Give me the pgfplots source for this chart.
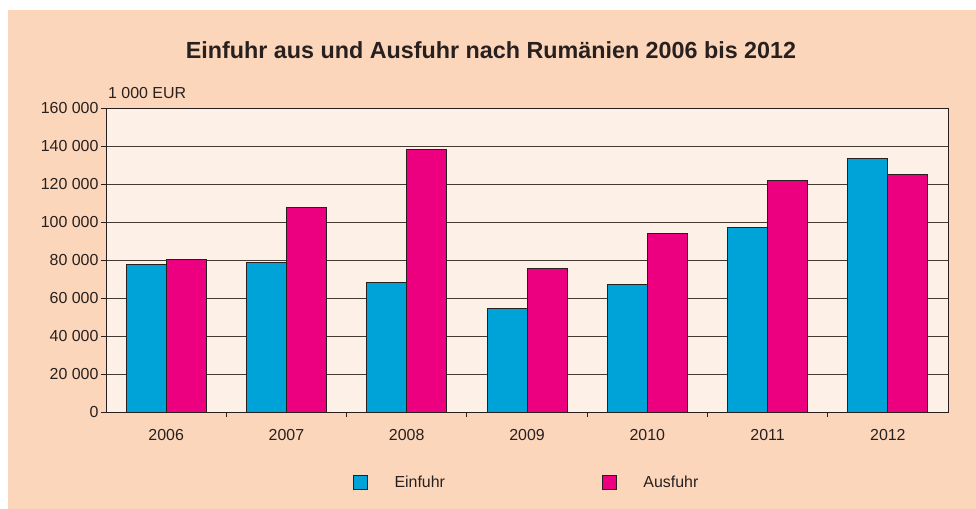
\documentclass[border=0pt]{standalone}
\usepackage{pgfplots}
\pgfplotsset{compat=1.18}
\usepackage{fontspec}
\setmainfont{Liberation Sans}
\definecolor{peach}{RGB}{252,214,187}
\definecolor{inner}{RGB}{253,240,230}
\definecolor{einf}{RGB}{0,163,216}
\definecolor{ausf}{RGB}{236,0,128}
\definecolor{dark}{RGB}{40,32,30}
\definecolor{gridc}{RGB}{70,58,52}
\begin{document}
\begin{tikzpicture}[x=1bp,y=1bp]
\fill[white] (0,0) rectangle (976,509);
\fill[peach] (8,0) rectangle (976,499);
\node[font=\bfseries\fontsize{23.4}{27}\selectfont, text=dark] at (491,459) {Einfuhr aus und Ausfuhr nach Rumänien 2006 bis 2012};
\node[font=\fontsize{16}{19}\selectfont, text=dark, anchor=west, inner sep=0pt] at (108,416) {1 000 EUR};
\begin{axis}[
  at={(106bp,97bp)}, anchor=south west,
  scale only axis, width=842bp, height=304bp,
  axis background/.style={fill=inner},
  xmin=-0.5, xmax=6.5, ymin=0, ymax=160000,
  scaled y ticks=false,
  ybar=0pt, bar width=40bp,
  xtick={0,...,6}, xticklabels={2006,2007,2008,2009,2010,2011,2012},
  minor xtick={0.5,1.5,...,5.5},
  major x tick style={draw=none},
  ytick={0,20000,...,160000},
  yticklabels={0,20 000,40 000,60 000,80 000,100 000,120 000,140 000,160 000},
  tick align=outside, xtick pos=bottom, ytick pos=left,
  major tick length=5bp, minor tick length=5bp,
  tick style={dark, line width=0.8pt},
  ymajorgrids, grid style={gridc, line width=0.8pt},
  axis line style={dark, line width=0.9pt},
  ticklabel style={font=\fontsize{16}{19}\selectfont, text=dark},
  yticklabel style={xshift=1bp},
  xticklabel style={yshift=-9bp},
  legend style={draw=none, fill=none, at={(0.2897,-0.2303)}, anchor=west,
    legend columns=2, font=\fontsize{16}{19}\selectfont, text=dark,
    /tikz/every even column/.append style={column sep=155bp}},
  legend image code/.code={\draw[#1, draw=dark, line width=0.8pt] (0bp,-7bp) rectangle (14bp,7bp); \path[draw=none, fill=none] (0bp,0bp) -- (39bp,0bp);},
]
\addplot[fill=einf, draw=dark, line width=0.9pt] coordinates {(0,77400) (1,78800) (2,68000) (3,54600) (4,67100) (5,97000) (6,133500)};
\addplot[fill=ausf, draw=dark, line width=0.9pt] coordinates {(0,80300) (1,107500) (2,138200) (3,75600) (4,94200) (5,121900) (6,125100)};
\legend{Einfuhr,Ausfuhr}
\end{axis}
\end{tikzpicture}
\end{document}
